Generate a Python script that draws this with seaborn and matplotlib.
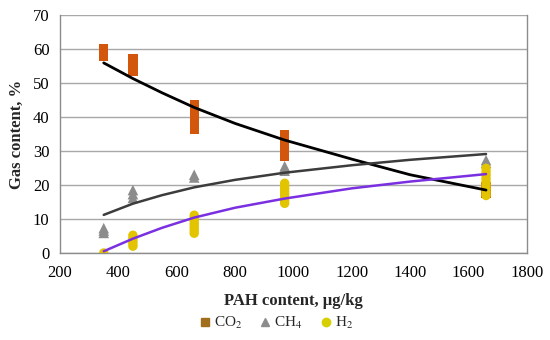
import numpy as np
import pandas as pd
import matplotlib
matplotlib.use('Agg')
import matplotlib.pyplot as plt
from matplotlib.lines import Line2D
import seaborn as sns

co2_x = [350]*4 + [450]*6 + [660]*8 + [970]*7 + [1660]*3
co2_y = [57.8, 58.6, 59.4, 60.0,
         53.4, 54.2, 55.0, 55.8, 56.5, 57.2,
         36.4, 37.4, 38.4, 39.4, 40.4, 41.4, 42.5, 43.5,
         28.4, 29.4, 30.5, 31.6, 32.6, 33.6, 34.7,
         17.5, 18.5, 19.5]
ch4_x = [350]*3 + [450]*3 + [660]*2 + [970]*3 + [1660]*2
ch4_y = [5.9, 6.6, 7.3,
         16.2, 17.3, 18.5,
         22.2, 23.0,
         24.2, 24.9, 25.5,
         26.5, 27.3]
h2_x = [350] + [450]*5 + [660]*7 + [970]*8 + [1660]*9
h2_y = [0.0,
        2.0, 2.8, 3.6, 4.4, 5.2,
        5.8, 6.7, 7.6, 8.5, 9.4, 10.3, 11.1,
        14.6, 15.4, 16.3, 17.2, 18.0, 18.9, 19.7, 20.5,
        16.9, 17.9, 18.9, 19.9, 20.9, 21.9, 22.9, 23.9, 24.9]

# trend lines
trend_x = [350, 450, 550, 660, 800, 970, 1200, 1400, 1660]
trend_co2 = [55.9, 51.3, 47.1, 42.8, 38.1, 33.2, 27.6, 23.0, 18.5]
trend_ch4 = [11.2, 14.5, 17.0, 19.3, 21.5, 23.6, 25.8, 27.4, 29.1]
trend_h2 = [0.5, 4.2, 7.4, 10.4, 13.3, 16.0, 19.0, 21.0, 23.2]

sns.set_style('white')
plt.rcParams['font.family'] = ['Liberation Serif', 'DejaVu Serif']
plt.rcParams['mathtext.fontset'] = 'stix'

fig = plt.figure(figsize=(5.5, 3.4), dpi=100)
ax = fig.add_axes([0.109, 0.256, 0.849, 0.7])

sns.scatterplot(x=co2_x, y=co2_y, marker='s', s=44, color='#D2560C',
                edgecolor='none', ax=ax, zorder=3)
sns.scatterplot(x=ch4_x, y=ch4_y, marker='^', s=58, color='#8C8C8C',
                edgecolor='none', ax=ax, zorder=4)
sns.scatterplot(x=h2_x, y=h2_y, marker='o', s=46, color='#E2C400',
                edgecolor='none', ax=ax, zorder=5)

sns.lineplot(x=trend_x, y=trend_co2, color='black', lw=2.0, ax=ax, zorder=6)
sns.lineplot(x=trend_x, y=trend_ch4, color='#3C3C3C', lw=1.8, ax=ax, zorder=6)
sns.lineplot(x=trend_x, y=trend_h2, color='#7A30E0', lw=1.8, ax=ax, zorder=6)

ax.set_xlim(200, 1800)
ax.set_ylim(0, 70)
ax.set_xticks(range(200, 1801, 200))
ax.set_yticks(range(0, 71, 10))
ax.yaxis.grid(True, color='#A8A8A8', lw=1.0)
ax.set_axisbelow(True)
for sp in ['left', 'bottom', 'right']:
    ax.spines[sp].set_color('#8C8C8C')
    ax.spines[sp].set_linewidth(1.0)
ax.spines['top'].set_visible(False)
ax.tick_params(axis='both', labelsize=12, colors='#8C8C8C', labelcolor='black',
               length=4, width=1, direction='out')
ax.tick_params(axis='x', pad=5)
ax.set_xlabel('PAH content, µg/kg', fontsize=12, fontweight='bold', labelpad=8)
ax.set_ylabel('Gas content, %', fontsize=12, fontweight='bold', labelpad=6)

handles = [
    Line2D([], [], marker='s', ls='none', color='#A06E1C', markersize=6),
    Line2D([], [], marker='^', ls='none', color='#8C8C8C', markersize=6),
    Line2D([], [], marker='o', ls='none', color='#D6D000', markersize=6),
]
fig.legend(handles, ['CO$_2$', 'CH$_4$', 'H$_2$'], loc='center',
           bbox_to_anchor=(0.5, 0.05), ncol=3, frameon=False, fontsize=11,
           handletextpad=0.1, columnspacing=1.0, handlelength=1.0)

fig.savefig('out.png', dpi=100)
